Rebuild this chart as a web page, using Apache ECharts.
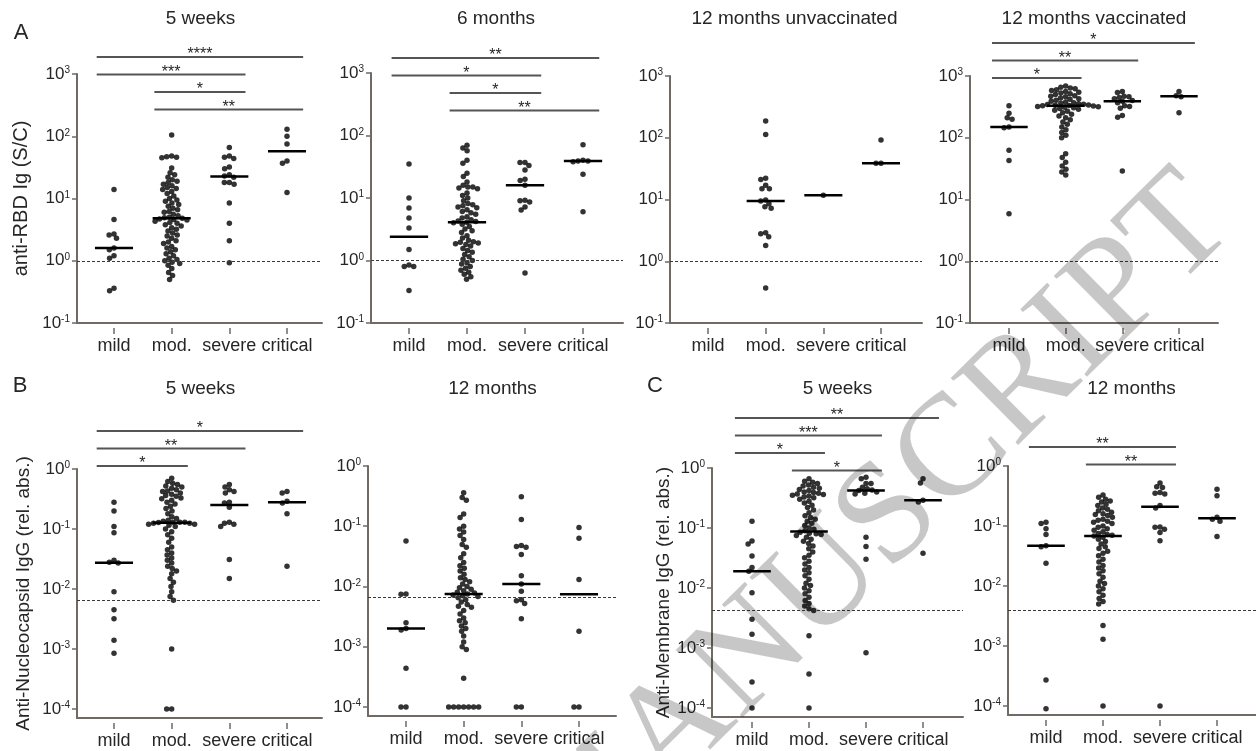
<!DOCTYPE html>
<html>
<head>
<meta charset="utf-8">
<title>Antibody levels by disease severity</title>
<script src="https://cdn.jsdelivr.net/npm/echarts@6.0.0/dist/echarts.min.js"></script>
<style>
  html, body { margin: 0; padding: 0; background: #fff; }
  #chart { width: 1256px; height: 751px; }
</style>
</head>
<body>
<div id="chart"></div>
<script>
var groups = ['mild', 'mod.', 'severe', 'critical'];

// anti-RBD Ig (S/C), one list per group: mild, mod., severe, critical
var rbd5w = [
  [14, 4.6, 2.7, 2.6, 2.3, 1.6, 1.5, 1.2, 1.1, 0.36, 0.33],
  [105, 48, 47, 46, 45, 31, 26, 24, 22, 20, 19, 18, 17, 16, 15, 14.5, 14, 13, 12, 11, 10, 9.5, 9, 8.5, 8, 7.5, 7, 6.6, 6.2, 6,
   5.6, 5.3, 5, 4.9, 4.8, 4.7, 4.6, 4.5, 4.3, 4.1, 4, 3.8, 3.6, 3.4, 3.2, 3, 2.8, 2.6, 2.5, 2.3, 2.1, 2, 1.9, 1.7, 1.6,
   1.5, 1.4, 1.3, 1.2, 1.1, 1.05, 1.0, 0.95, 0.9, 0.85, 0.75, 0.65, 0.58, 0.5],
  [66, 48, 46, 44, 32, 30, 24, 23, 22, 18, 18, 17, 8.5, 4.0, 2.1, 0.93],
  [130, 100, 75, 40, 37, 12.5]
];
var rbd6m = [
  [35, 10, 6.9, 4.8, 3.3, 1.5, 0.85, 0.8, 0.8, 0.33],
  [70, 63, 57, 40, 36, 25, 22, 18, 16, 15, 15, 14.5, 14, 12, 11, 10, 9, 8.2, 7.8, 7.5, 7.2, 7, 6.5, 6.1, 5.8, 5.5, 5, 4.8,
   4.5, 4.3, 4.2, 4.1, 4, 3.8, 3.5, 3.2, 3, 2.8, 2.5, 2.3, 2.1, 2, 1.95, 1.9, 1.85, 1.8, 1.7, 1.55, 1.45, 1.35, 1.25, 1.15,
   1.05, 1.0, 0.92, 0.88, 0.8, 0.75, 0.7, 0.65, 0.6, 0.55, 0.5],
  [37, 37, 33, 28, 20, 19, 16, 9.2, 9, 8.6, 7.2, 6.4, 0.63],
  [71, 40, 39, 39, 38, 24, 6]
];
var rbd12mUnvacc = [
  [],
  [186, 113, 22, 21, 17, 15, 15, 9.8, 9.5, 8.5, 7.6, 7.2, 2.9, 2.8, 2.5, 1.8, 0.37],
  [11.7],
  [92, 38.5, 38.5]
];
var rbd12mVacc = [
  [330, 250, 210, 200, 150, 145, 63, 43, 5.9],
  [690, 660, 640, 620, 600, 580, 560, 545, 530, 515, 500, 480, 470, 460, 440, 430, 420, 405, 390, 380, 370, 362, 355, 350,
   345, 340, 337, 334, 330, 326, 322, 318, 312, 305, 298, 290, 280, 268, 255, 240, 225, 210, 195, 180, 165, 150, 135, 122,
   110, 100, 55, 48, 40, 35, 31, 28, 25],
  [560, 540, 470, 460, 450, 430, 400, 390, 370, 330, 320, 300, 230, 215, 29],
  [560, 480, 460, 255]
];

// Anti-Nucleocapsid IgG (rel. abs.)
var np5w = [
  [0.28, 0.2, 0.11, 0.087, 0.03, 0.028, 0.027, 0.009, 0.0045, 0.0032, 0.0014, 0.00085],
  [0.7, 0.62, 0.58, 0.55, 0.52, 0.5, 0.48, 0.45, 0.43, 0.42, 0.4, 0.38, 0.36, 0.35, 0.33, 0.32, 0.3, 0.28, 0.26, 0.24,
   0.22, 0.2, 0.18, 0.16, 0.15, 0.14, 0.135, 0.13, 0.13, 0.13, 0.128, 0.125, 0.125, 0.12, 0.12, 0.115, 0.11, 0.1, 0.09,
   0.08, 0.07, 0.06, 0.05, 0.045, 0.04, 0.037, 0.033, 0.03, 0.027, 0.024, 0.022, 0.02, 0.018, 0.015, 0.013, 0.011, 0.009,
   0.0075, 0.0065, 0.001, 0.0001, 0.0001],
  [0.55, 0.5, 0.45, 0.42, 0.4, 0.28, 0.27, 0.23, 0.13, 0.125, 0.12, 0.11, 0.031, 0.015],
  [0.42, 0.4, 0.29, 0.27, 0.18, 0.024]
];
var np12m = [
  [0.057, 0.0075, 0.0074, 0.0025, 0.002, 0.0019, 0.00044, 0.0001, 0.0001],
  [0.36, 0.3, 0.27, 0.16, 0.14, 0.1, 0.09, 0.08, 0.07, 0.06, 0.05, 0.045, 0.035, 0.03, 0.025, 0.022, 0.02, 0.018, 0.016,
   0.014, 0.013, 0.012, 0.011, 0.01, 0.0095, 0.009, 0.0085, 0.008, 0.0078, 0.0075, 0.0072, 0.007, 0.0068, 0.0065, 0.006,
   0.0055, 0.005, 0.0047, 0.0045, 0.004, 0.0035, 0.003, 0.0027, 0.0025, 0.0022, 0.002, 0.0018, 0.0015, 0.0012, 0.001,
   0.0009, 0.0003, 0.0001, 0.0001, 0.0001, 0.0001, 0.0001, 0.0001, 0.0001],
  [0.31, 0.13, 0.048, 0.046, 0.045, 0.034, 0.015, 0.011, 0.0083, 0.006, 0.0058, 0.0052, 0.0029, 0.0001, 0.0001],
  [0.095, 0.063, 0.013, 0.0018, 0.0001, 0.0001]
];

// Anti-Membrane IgG (rel. abs.)
var mp5w = [
  [0.13, 0.061, 0.054, 0.034, 0.022, 0.019, 0.0083, 0.003, 0.0017, 0.00027, 0.0001],
  [0.66, 0.6, 0.58, 0.55, 0.52, 0.5, 0.48, 0.46, 0.44, 0.42, 0.4, 0.39, 0.38, 0.37, 0.36, 0.35, 0.34, 0.33, 0.32, 0.3,
   0.28, 0.26, 0.24, 0.22, 0.2, 0.18, 0.16, 0.15, 0.14, 0.13, 0.12, 0.11, 0.1, 0.095, 0.09, 0.085, 0.082, 0.08, 0.078,
   0.075, 0.07, 0.065, 0.06, 0.055, 0.05, 0.045, 0.04, 0.035, 0.032, 0.028, 0.025, 0.022, 0.02, 0.018, 0.016, 0.014,
   0.012, 0.011, 0.01, 0.009, 0.008, 0.007, 0.0062, 0.0055, 0.005, 0.0045, 0.0042, 0.0016, 0.00037, 0.0001],
  [0.7, 0.66, 0.55, 0.55, 0.48, 0.45, 0.43, 0.42, 0.4, 0.38, 0.37, 0.07, 0.049, 0.03, 0.00083],
  [0.66, 0.56, 0.29, 0.27, 0.038]
];
var mp12m = [
  [0.115, 0.11, 0.09, 0.072, 0.047, 0.045, 0.024, 0.00027, 0.00009],
  [0.33, 0.3, 0.28, 0.26, 0.25, 0.23, 0.22, 0.2, 0.19, 0.18, 0.17, 0.16, 0.155, 0.15, 0.14, 0.13, 0.125, 0.12, 0.115,
   0.11, 0.1, 0.095, 0.09, 0.085, 0.08, 0.075, 0.072, 0.07, 0.068, 0.065, 0.06, 0.055, 0.05, 0.045, 0.042, 0.038, 0.035,
   0.032, 0.028, 0.025, 0.022, 0.02, 0.018, 0.016, 0.014, 0.012, 0.011, 0.01, 0.009, 0.008, 0.007, 0.0062, 0.0055, 0.005,
   0.0022, 0.0013, 0.0001],
  [0.52, 0.45, 0.44, 0.36, 0.35, 0.34, 0.22, 0.2, 0.096, 0.095, 0.088, 0.078, 0.057, 0.0001],
  [0.41, 0.32, 0.14, 0.13, 0.12, 0.067]
];

// significance brackets, top to bottom: [from group, to group, stars]
var rbd5wSig = [[0, 3, '****'], [0, 2, '***'], [1, 2, '*'], [1, 3, '**']];
var rbd6mSig = [[0, 3, '**'], [0, 2, '*'], [1, 2, '*'], [1, 3, '**']];
var rbd12mVaccSig = [[0, 3, '*'], [0, 2, '**'], [0, 1, '*']];
var np5wSig = [[0, 3, '*'], [0, 2, '**'], [0, 1, '*']];
var mp5wSig = [[0, 3, '**'], [0, 2, '***'], [0, 1, '*'], [1, 2, '*']];
var mp12mSig = [[0, 2, '**'], [1, 2, '**']];

// assay cut-offs
var cutRbd = 1, cutNp = 0.0066, cutMp5w = 0.0043, cutMp12m = 0.0039;

var FONT = '"Liberation Sans", Arial, sans-serif';
var TXT = '#262626';
var AXIS = '#6f6a64';
var SIG_STEP = 17.5;

var panels = [
  {vals: rbd5w, sig: rbd5wSig, cut: cutRbd, title: '5 weeks', left: 77, right: 322, top: 74, bottom: 323, c0: 114, c3: 287,
   yMin: -1, yMax: 3, sigTop: -17, name: 'anti-RBD Ig (S/C)', nameSize: 20, nameGap: 46},
  {vals: rbd6m, sig: rbd6mSig, cut: cutRbd, title: '6 months', left: 371, right: 623, top: 73, bottom: 323, c0: 409, c3: 583,
   yMin: -1, yMax: 3, sigTop: -15},
  {vals: rbd12mUnvacc, sig: [], cut: cutRbd, title: '12 months unvaccinated', left: 670, right: 922, top: 76, bottom: 323,
   c0: 708, c3: 881, yMin: -1, yMax: 3},
  {vals: rbd12mVacc, sig: rbd12mVaccSig, cut: cutRbd, title: '12 months vaccinated', left: 970, right: 1218, top: 76, bottom: 323,
   c0: 1009, c3: 1179, yMin: -1, yMax: 3, sigTop: -33},
  {vals: np5w, sig: np5wSig, cut: cutNp, title: '5 weeks', left: 77, right: 322, top: 469, bottom: 718, c0: 114, c3: 287,
   yMin: -4.15, yMax: 0, sigTop: -38, name: 'Anti-Nucleocapsid IgG (rel. abs.)', nameSize: 19, nameGap: 44},
  {vals: np12m, sig: [], cut: cutNp, title: '12 months', left: 368, right: 616, top: 466, bottom: 716, c0: 406, c3: 579,
   yMin: -4.15, yMax: 0},
  {vals: mp5w, sig: mp5wSig, cut: cutMp5w, title: '5 weeks', left: 712, right: 963, top: 468, bottom: 717, c0: 752, c3: 923,
   yMin: -4.15, yMax: 0, sigTop: -50, name: 'Anti-Membrane IgG (rel. abs.)', nameSize: 19, nameGap: 37},
  {vals: mp12m, sig: mp12mSig, cut: cutMp12m, title: '12 months', left: 1008, right: 1256, top: 466, bottom: 715, c0: 1046, c3: 1217,
   yMin: -4.15, yMax: 0, sigTop: -19}
];

function median(arr) {
  var s = arr.slice().sort(function(a, b) { return a - b; });
  var n = s.length;
  return n % 2 ? s[(n - 1) / 2] : (s[n / 2 - 1] + s[n / 2]) / 2;
}

// column scatter: push points sideways until they stop overlapping
function swarm(vals, pxPerDec, diam) {
  var pts = vals.map(function(v, i) { return {i: i, y: -Math.log10(v) * pxPerDec}; });
  pts.sort(function(a, b) { return a.y - b.y; });
  var placed = [], out = [];
  pts.forEach(function(p) {
    var blocked = [];
    placed.forEach(function(q) {
      var dy = Math.abs(q.y - p.y);
      if (dy < diam) {
        var w = Math.sqrt(diam * diam - dy * dy);
        blocked.push([q.x - w, q.x + w]);
      }
    });
    var cands = [0];
    blocked.forEach(function(b) { cands.push(b[0], b[1]); });
    cands.sort(function(a, b) { return Math.abs(a) - Math.abs(b); });
    var best = 0;
    for (var k = 0; k < cands.length; k++) {
      var c = cands[k], ok = true;
      for (var j = 0; j < blocked.length; j++) {
        if (c > blocked[j][0] + 1e-6 && c < blocked[j][1] - 1e-6) { ok = false; break; }
      }
      if (ok) { best = c; break; }
    }
    p.x = best;
    placed.push(p);
    out[p.i] = best;
  });
  return out;
}

function powLabel(v) { return '{b|10}{s|' + Math.round(v) + '}'; }

var option = {
  animation: false,
  backgroundColor: '#fff',
  grid: [], xAxis: [], yAxis: [], series: [], graphic: []
};

panels.forEach(function(p, k) {
  var width = p.right - p.left, height = p.bottom - p.top;
  var spacing = (p.c3 - p.c0) / 3;
  var xMin = (p.left - p.c0) / spacing, xMax = 3 + (p.right - p.c3) / spacing;
  var pxPerDec = height / (p.yMax - p.yMin);
  var ticks = [];
  for (var e = Math.ceil(p.yMin); e <= p.yMax; e++) ticks.push(e);

  option.grid.push({left: p.left, top: p.top, width: width, height: height, show: false});

  option.xAxis.push({
    gridIndex: k, type: 'value', min: xMin, max: xMax, position: 'bottom',
    axisLine: {onZero: false, lineStyle: {color: AXIS, width: 2}},
    axisTick: {show: false}, axisLabel: {show: false}, splitLine: {show: false}
  });
  option.xAxis.push({
    gridIndex: k, type: 'value', min: xMin, max: xMax, position: 'bottom', offset: 5,
    axisLine: {show: false, onZero: false},
    axisTick: {show: true, length: 6, customValues: [0, 1, 2, 3], lineStyle: {color: AXIS, width: 1.5}},
    axisLabel: {customValues: [0, 1, 2, 3], margin: 9, color: TXT, fontSize: 18, fontFamily: FONT,
      formatter: function(v) { return groups[Math.round(v)]; }},
    splitLine: {show: false}
  });
  option.yAxis.push({
    gridIndex: k, type: 'value', min: p.yMin, max: p.yMax,
    axisLine: {show: true, onZero: false, lineStyle: {color: AXIS, width: 2}},
    axisTick: {show: true, length: 5, customValues: ticks, lineStyle: {color: AXIS, width: 1.5}},
    axisLabel: {customValues: ticks, margin: 7, formatter: powLabel,
      rich: {
        b: {fontSize: 17, color: TXT, fontFamily: FONT},
        s: {fontSize: 10, color: TXT, fontFamily: FONT, verticalAlign: 'top'}
      }},
    splitLine: {show: false},
    name: p.name || '', nameLocation: 'middle', nameGap: p.nameGap || 0,
    nameTextStyle: {fontSize: p.nameSize || 18, color: TXT, fontFamily: FONT}
  });

  var points = [], meds = [];
  p.vals.forEach(function(list, gi) {
    if (!list.length) return;
    var offs = swarm(list, pxPerDec, 5);
    list.forEach(function(v, j) { points.push([gi + offs[j] / spacing, Math.log10(v)]); });
    meds.push([gi, Math.log10(median(list))]);
  });

  option.series.push({
    type: 'scatter', xAxisIndex: 2 * k, yAxisIndex: k, data: points,
    symbolSize: 5.5, itemStyle: {color: '#000'}, z: 3,
    markLine: {
      silent: true, symbol: 'none', label: {show: false},
      lineStyle: {type: [3, 2], color: '#3a3a3a', width: 1},
      data: [{yAxis: Math.log10(p.cut)}]
    }
  });

  option.series.push({
    type: 'custom', xAxisIndex: 2 * k, yAxisIndex: k, data: meds, z: 4, clip: false,
    renderItem: function(params, api) {
      var c = api.coord([api.value(0), api.value(1)]);
      var half = api.size([0.33, 0])[0];
      return {type: 'line', shape: {x1: c[0] - half, y1: c[1], x2: c[0] + half, y2: c[1]},
        style: {stroke: '#000', lineWidth: 2.5}};
    }
  });

  if (p.sig.length) {
    option.series.push({
      type: 'custom', xAxisIndex: 2 * k, yAxisIndex: k, clip: false, z: 4,
      data: p.sig.map(function(s, j) { return [s[0], s[1], j]; }),
      renderItem: function(params, api) {
        var s = p.sig[params.dataIndex];
        var x1 = api.coord([s[0] - 0.3, p.yMax])[0];
        var x2 = api.coord([s[1] + 0.28, p.yMax])[0];
        var y = params.coordSys.y + p.sigTop + params.dataIndex * SIG_STEP;
        return {type: 'group', children: [
          {type: 'line', shape: {x1: x1, y1: y, x2: x2, y2: y}, style: {stroke: '#555', lineWidth: 2}},
          {type: 'text', x: (x1 + x2) / 2, y: y - 2,
            style: {text: s[2], font: '16px ' + FONT, fill: TXT,
              align: 'center', verticalAlign: 'middle', textAlign: 'center', textVerticalAlign: 'middle'}}
        ]};
      }
    });
  }

  option.graphic.push({
    type: 'text', x: (p.c0 + p.c3) / 2, y: k < 4 ? 19 : 389,
    style: {text: p.title, font: '19px ' + FONT, fill: TXT,
      align: 'center', verticalAlign: 'middle', textAlign: 'center', textVerticalAlign: 'middle'}
  });
});

[['A', 21, 33], ['B', 20, 386], ['C', 655, 386]].forEach(function(l) {
  option.graphic.push({
    type: 'text', x: l[1], y: l[2],
    style: {text: l[0], font: '22px ' + FONT, fill: TXT,
      align: 'center', verticalAlign: 'middle', textAlign: 'center', textVerticalAlign: 'middle'}
  });
});

// journal watermark across the lower right
option.graphic.push({
  type: 'text', x: 1262, y: 252, rotation: 0.78, z: 100, silent: true,
  style: {text: 'ACCEPTED MANUSCRIPT', font: '145px "Liberation Serif", serif', fill: 'rgba(0,0,0,0.22)',
    align: 'right', verticalAlign: 'bottom', textAlign: 'right', textVerticalAlign: 'bottom'}
});

var chart = echarts.init(document.getElementById('chart'));
chart.setOption(option);
</script>
</body>
</html>
